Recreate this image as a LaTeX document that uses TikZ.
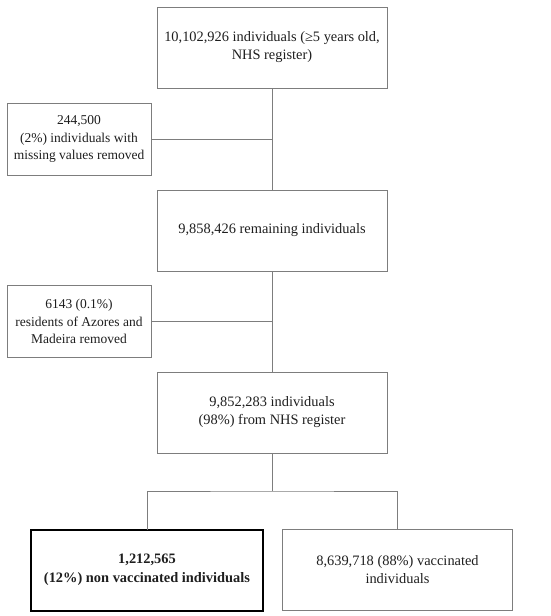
\documentclass[tikz,border=0pt]{standalone}
\usepackage{fontspec}
\setmainfont{Liberation Serif}
\usetikzlibrary{positioning}
\definecolor{rule}{RGB}{125,125,125}
\definecolor{ink}{RGB}{30,30,30}
\tikzset{
  stage/.style = {draw=rule, line width=0.9pt, text=ink, align=center,
                  minimum width=230pt, minimum height=81pt, inner sep=2pt,
                  outer sep=0pt, font=\fontsize{14.4}{18}\selectfont},
  drop/.style  = {stage, minimum width=144pt, minimum height=72pt,
                  font=\fontsize{13.5}{17.3}\selectfont},
  focus/.style = {stage, draw=black, line width=2pt, minimum width=232pt,
                  font=\fontsize{14.4}{18.5}\selectfont\bfseries},
  link/.style  = {draw=rule, line width=0.9pt},
}

\begin{document}
\begin{tikzpicture}[x=1pt, y=-1pt]
\useasboundingbox (0,0) rectangle (550,616);
% main column
\node[stage] (register) at (272,47.5)
  {10,102,926 individuals (≥5 years old,\\NHS register)};
\node[stage, below=102pt of register] (remaining)
  {9,858,426 remaining individuals};
\node[stage, below=101pt of remaining] (cohort)
  {9,852,283 individuals\\(98\%) from NHS register};

% exclusions
\node[drop] (missing) at (79,139)
  {244,500\\(2\%) individuals with\\missing values removed};
\node[drop] (islands) at (79,321.5)
  {6143 (0.1\%)\\residents of Azores and\\Madeira removed};

% outcome groups
\node[focus] (unvacc) at (147,570)
  {1,212,565\\(12\%) non vaccinated individuals};
\node[stage] (vacc) at (397.5,570)
  {8,639,718 (88\%) vaccinated\\individuals};

\draw[link] (register.south) -- (remaining.north);
\draw[link] (remaining.south) -- (cohort.north);
\draw[link] (missing.east) -- (missing.east -| register.south);
\draw[link] (islands.east) -- (islands.east -| remaining.south);

\coordinate (split) at (272,491);
\draw[link] (cohort.south) -- (split);
\draw[link] (unvacc.north) |- (split) -| (vacc.north);
\end{tikzpicture}
\end{document}
